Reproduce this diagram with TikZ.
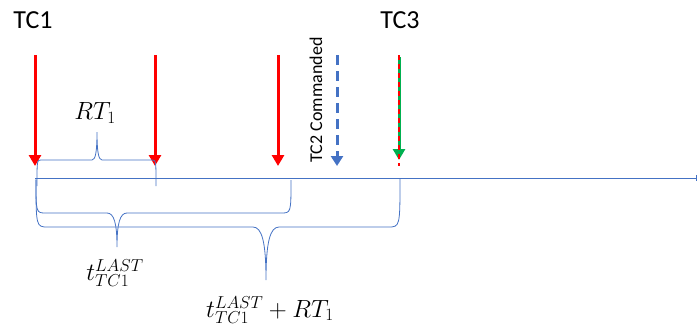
\documentclass[tikz,border=0pt]{standalone}
\usepackage{fontspec}
\setsansfont{Carlito}
\usepackage{amsmath}
\usetikzlibrary{arrows.meta,positioning}
\definecolor{officeblue}{RGB}{68,114,196}
\definecolor{officegreen}{RGB}{0,176,80}
\tikzstyle{event} = [draw, red, line width=3pt, -{Triangle[width=12pt,length=11pt]}]
\tikzstyle{cmd} = [draw, officeblue, line width=3pt, dash pattern=on 10pt off 6pt, -{Triangle[width=12pt,length=10pt]}]
\tikzstyle{hit} = [draw, officegreen, line width=3pt, -{Triangle[width=12pt,length=11pt]}]
\tikzstyle{overlay} = [draw, red, line width=1.5pt, dash pattern=on 5pt off 4pt]
\tikzstyle{axis} = [draw, officeblue, line width=1pt, -{Bar[width=6pt]}]
\tikzstyle{span} = [draw, officeblue, line width=0.8pt]
\tikzstyle{tclabel} = [font=\sffamily\fontsize{26}{30}\selectfont, inner sep=0pt]
\tikzstyle{cmdlabel} = [font=\sffamily\fontsize{18}{22}\selectfont, inner sep=0pt]
\tikzstyle{mathlabel} = [font=\fontsize{24}{28}\selectfont, inner sep=0pt]
% #1 left x, #2 right x, #3 end y, #4 flat y, #5 tip x, #6 tip y, #7 tip half width, #8 end radius
\newcommand{\spanbrace}[8]{%
    \draw [span] (#1,#3) .. controls (#1,#4) and (#1,#4) .. ({#1+#8},#4)
        -- ({#5-#7},#4) .. controls ({#5-0.3*#7},#4) and (#5,{#4+0.3*(#6-#4)}) .. (#5,#6)
        .. controls (#5,{#4+0.3*(#6-#4)}) and ({#5+0.3*#7},#4) .. ({#5+#7},#4)
        -- ({#2-#8},#4) .. controls (#2,#4) and (#2,#4) .. (#2,#3);}

\begin{document}
\begin{tikzpicture}[x=1pt, y=-1pt]
    \useasboundingbox (0,0) rectangle (698,327);
    % Place nodes

    \node [tclabel] (tc1) at (33,20) {TC1};
    \node [tclabel] (tc3) at (400,20) {TC3};
    \node [cmdlabel, rotate=90] (tc2) at (316,100) {TC2 Commanded};
    \node [mathlabel] (rt) at (95,113) {$RT_1$};
    \node [mathlabel] (last) at (115,273) {$t_{TC1}^{LAST}$};
    \node [mathlabel] (lastrt) at (270,310) {$t_{TC1}^{LAST}+RT_1$};

    % time line
    \coordinate (t0) at (35,178);
    \coordinate (tend) at (697,178);
    \draw [axis] (t0) -- (tend);

    % TC1 repeats
    \foreach \x/\n in {35/1,155/2,278/3} {
        \coordinate (top\n) at (\x,55);
        \coordinate (hit\n) at (\x,166);
        \draw [event] (top\n) -- (hit\n);
    }

    % TC2 commanded, TC3
    \coordinate (cmdtop) at (337,55);
    \coordinate (cmdhit) at (337,166);
    \draw [cmd] (cmdtop) -- (cmdhit);
    \coordinate (tc3top) at (399,57);
    \coordinate (tc3hit) at (399,160);
    \coordinate (tc3a) at (399,55);
    \coordinate (tc3b) at (399,166);
    \draw [hit] (tc3top) -- (tc3hit);
    \draw [overlay] (tc3a) -- (tc3b);

    % braces
    \spanbrace{37}{156}{186}{160}{97}{132}{5}{4}
    \spanbrace{36}{291}{180}{213}{117}{247}{10}{10}
    \spanbrace{36}{400}{178}{227}{266}{280}{13}{12}
\end{tikzpicture}
\end{document}
